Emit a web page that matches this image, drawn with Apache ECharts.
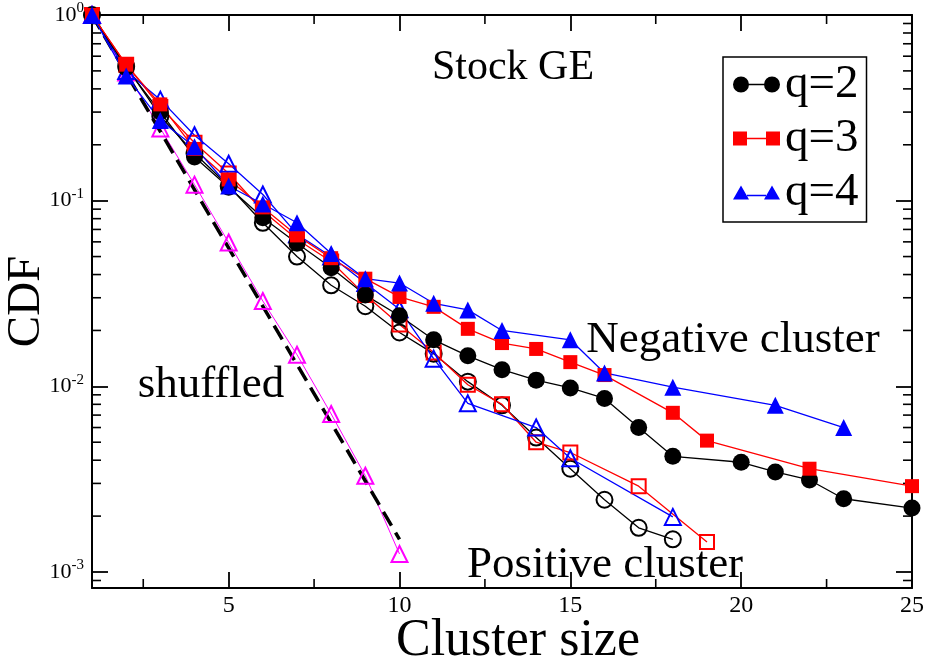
<!DOCTYPE html>
<html>
<head>
<meta charset="utf-8">
<script src="https://cdn.jsdelivr.net/npm/echarts@6/dist/echarts.min.js"></script>
<style>
  html, body { margin: 0; padding: 0; background: #fff; }
  #chart { width: 933px; height: 658px; }
</style>
</head>
<body>
<div id="chart"></div>
<script>
// CDF of cluster sizes, stock GE (filled = negative, open = positive)
const negQ2 = [[1,1],[2,0.52],[3,0.30],[4,0.172],[5,0.118],[6,0.081],[7,0.059],[8,0.0435],[9,0.031],[10,0.024],
  [11,0.0178],[12,0.0146],[13,0.0123],[14,0.0108],[15,0.0098],[16,0.0086],[17,0.0060],[18,0.0042],
  [20,0.0039],[21,0.00346],[22,0.00313],[23,0.00248],[25,0.00221]];
const negQ3 = [[1,1],[2,0.54],[3,0.33],[4,0.19],[5,0.13],[6,0.092],[7,0.065],[8,0.049],[9,0.038],[10,0.0303],
  [11,0.0268],[12,0.0204],[13,0.0171],[14,0.0159],[15,0.0135],[16,0.0115],[18,0.0072],[19,0.0051],
  [22,0.0036],[25,0.0029]];
const negQ4 = [[1,1],[2,0.47],[3,0.27],[4,0.195],[5,0.12],[6,0.096],[7,0.076],[8,0.052],[9,0.038],[10,0.036],
  [11,0.028],[12,0.0258],[13,0.020],[15,0.0178],[16,0.0118],[18,0.0099],[21,0.0079],[23,0.006]];
const posQ2 = [[1,1],[2,0.53],[3,0.285],[4,0.18],[5,0.12],[6,0.076],[7,0.050],[8,0.035],[9,0.027],[10,0.0195],
  [11,0.015],[12,0.0106],[13,0.0079],[14,0.0053],[15,0.0036],[16,0.00245],[17,0.00173],[18,0.0015]];
const posQ3 = [[1,1],[2,0.54],[3,0.32],[4,0.205],[5,0.14],[6,0.088],[7,0.062],[8,0.047],[9,0.031],[10,0.0215],
  [11,0.0152],[12,0.0102],[13,0.008],[14,0.0050],[15,0.0044],[17,0.0029],[19,0.00145]];
const posQ4 = [[1,1],[2,0.50],[3,0.35],[4,0.225],[5,0.158],[6,0.108],[7,0.066],[8,0.050],[9,0.036],[10,0.026],
  [11,0.0141],[12,0.0081],[14,0.006],[15,0.0041],[18,0.00198]];
const shuffled = [[1,1],[2,0.49],[3,0.245],[4,0.122],[5,0.0595],[6,0.0288],[7,0.0148],[8,0.0071],[9,0.0033],[10,0.00125]];
const fitLine = [[1,1],[10,0.0015]];

const xMin = 1, xMax = 25, yMin = 0.00082, yMax = 1;
const xMinorTicks = [2.5, 7.5, 12.5, 17.5, 22.5];
const yMinorTicks = [0.0009,
  0.002, 0.003, 0.004, 0.005, 0.006, 0.007, 0.008, 0.009,
  0.02, 0.03, 0.04, 0.05, 0.06, 0.07, 0.08, 0.09,
  0.2, 0.3, 0.4, 0.5, 0.6, 0.7, 0.8, 0.9];

const serif = "'Liberation Serif', 'Times New Roman', serif";

const chart = echarts.init(document.getElementById('chart'));

function lineSeries(name, data, color, symbol, size, filled) {
  return {
    name: name,
    type: 'line',
    data: data,
    symbol: symbol,
    symbolSize: size,
    showSymbol: true,
    lineStyle: { color: color, width: 1.3 },
    itemStyle: filled
      ? { color: color }
      : { color: 'rgba(255,255,255,0)', borderColor: color, borderWidth: 2 },
    emphasis: { disabled: true },
    animation: false
  };
}

function minorTickSeries(dim, values, len) {
  return {
    type: 'custom',
    silent: true,
    clip: false,
    animation: false,
    data: values.map(function (v) { return [v]; }),
    renderItem: function (params, api) {
      const v = api.value(0);
      const st = { stroke: '#000', lineWidth: 1.6 };
      let a, b;
      if (dim === 'y') {
        a = api.coord([xMin, v]);
        b = api.coord([xMax, v]);
        return { type: 'group', children: [
          { type: 'line', shape: { x1: a[0], y1: a[1], x2: a[0] + len, y2: a[1] }, style: st },
          { type: 'line', shape: { x1: b[0], y1: b[1], x2: b[0] - len, y2: b[1] }, style: st }
        ] };
      }
      a = api.coord([v, yMin]);
      b = api.coord([v, yMax]);
      return { type: 'group', children: [
        { type: 'line', shape: { x1: a[0], y1: a[1], x2: a[0], y2: a[1] - len }, style: st },
        { type: 'line', shape: { x1: b[0], y1: b[1], x2: b[0], y2: b[1] + len }, style: st }
      ] };
    }
  };
}

const axisLine = { lineStyle: { color: '#000', width: 2 } };
const majorTick = { inside: true, length: 16, lineStyle: { color: '#000', width: 1.8 } };

const iconCircle = 'path://M0,8 A8,8 0 1,1 16,8 A8,8 0 1,1 0,8 Z M15,7.3 L32,7.3 L32,8.7 L15,8.7 Z M31,8 A8,8 0 1,1 47,8 A8,8 0 1,1 31,8 Z';
const iconRect = 'path://M0,1 L14,1 L14,15 L0,15 Z M14,7.3 L33,7.3 L33,8.7 L14,8.7 Z M33,1 L47,1 L47,15 L33,15 Z';
const iconTri = 'path://M0,15 L8,1 L16,15 Z M14,10.3 L33,10.3 L33,11.7 L14,11.7 Z M31,15 L39,1 L47,15 Z';

chart.setOption({
  backgroundColor: '#fff',
  grid: { left: 92, right: 21, top: 15, bottom: 70, containLabel: false, outerBoundsMode: 'none' },
  xAxis: [
    {
      type: 'value', min: xMin, max: xMax, position: 'bottom',
      axisLine: axisLine, axisTick: majorTick, splitLine: { show: false },
      axisLabel: {
        margin: 6, color: '#000', fontFamily: serif, fontSize: 24,
        formatter: function (v) { return v === xMin ? '' : String(v); }
      },
      name: 'Cluster size', nameLocation: 'middle', nameGap: 27, nameMoveOverlap: false,
      nameTextStyle: { color: '#000', fontFamily: serif, fontSize: 52, padding: [0, 0, 0, 32] }
    },
    {
      type: 'value', min: xMin, max: xMax, position: 'top',
      axisLine: axisLine, axisTick: majorTick, splitLine: { show: false },
      axisLabel: { show: false }
    }
  ],
  yAxis: [
    {
      type: 'log', logBase: 10, min: yMin, max: yMax, position: 'left',
      axisLine: axisLine, axisTick: majorTick, splitLine: { show: false },
      axisLabel: {
        margin: 8, color: '#000', fontFamily: serif, fontSize: 22,
        formatter: function (v) {
          const l = Math.log10(v);
          const e = Math.round(l);
          if (Math.abs(l - e) > 1e-6) return '';
          return '{b|10}{s|' + e + '}';
        },
        rich: {
          b: { fontFamily: serif, fontSize: 22, color: '#000', lineHeight: 28 },
          s: { fontFamily: serif, fontSize: 15, color: '#000', verticalAlign: 'top', lineHeight: 16 }
        }
      },
      name: 'CDF', nameLocation: 'middle', nameGap: 42, nameMoveOverlap: false,
      nameTextStyle: { color: '#000', fontFamily: serif, fontSize: 47 }
    },
    {
      type: 'log', logBase: 10, min: yMin, max: yMax, position: 'right',
      axisLine: axisLine, axisTick: majorTick, splitLine: { show: false },
      axisLabel: { show: false }
    }
  ],
  legend: {
    orient: 'vertical',
    left: 723, top: 57,
    padding: [4, 8, 6, 10],
    itemGap: 7,
    itemWidth: 47, itemHeight: 16,
    borderColor: '#000', borderWidth: 1.5,
    selectedMode: false,
    textStyle: { color: '#000', fontFamily: serif, fontSize: 47, lineHeight: 44 },
    data: [
      { name: 'q=2', icon: iconCircle },
      { name: 'q=3', icon: iconRect },
      { name: 'q=4', icon: iconTri }
    ]
  },
  graphic: [
    { type: 'text', x: 513, y: 68, style: { text: 'Stock GE', fill: '#000', fontFamily: serif, fontSize: 42, textAlign: 'center', textVerticalAlign: 'middle' } },
    { type: 'text', x: 733, y: 340, style: { text: 'Negative cluster', fill: '#000', fontFamily: serif, fontSize: 45, textAlign: 'center', textVerticalAlign: 'middle' } },
    { type: 'text', x: 605, y: 565, style: { text: 'Positive cluster', fill: '#000', fontFamily: serif, fontSize: 45, textAlign: 'center', textVerticalAlign: 'middle' } },
    { type: 'text', x: 211, y: 385, style: { text: 'shuffled', fill: '#000', fontFamily: serif, fontSize: 45, textAlign: 'center', textVerticalAlign: 'middle' } }
  ],
  series: [
    minorTickSeries('y', yMinorTicks, 9),
    minorTickSeries('x', xMinorTicks, 9),
    Object.assign(lineSeries('shuffled', shuffled, '#ff00ff', 'triangle', 16, false), { lineStyle: { color: '#ff00ff', width: 1 } }),
    {
      name: 'fit', type: 'line', data: fitLine, symbol: 'none', animation: false,
      lineStyle: { color: '#000', width: 3.5, type: [16, 8] }
    },
    lineSeries('q=2 positive', posQ2, '#000000', 'circle', 16, false),
    lineSeries('q=3 positive', posQ3, '#ff0000', 'rect', 14, false),
    lineSeries('q=4 positive', posQ4, '#0000ff', 'triangle', 16, false),
    lineSeries('q=2', negQ2, '#000000', 'circle', 17, true),
    lineSeries('q=3', negQ3, '#ff0000', 'rect', 14, true),
    lineSeries('q=4', negQ4, '#0000ff', 'triangle', 17, true)
  ]
});

window.onresize = function () {
  chart.resize();
};
</script>
</body>
</html>
